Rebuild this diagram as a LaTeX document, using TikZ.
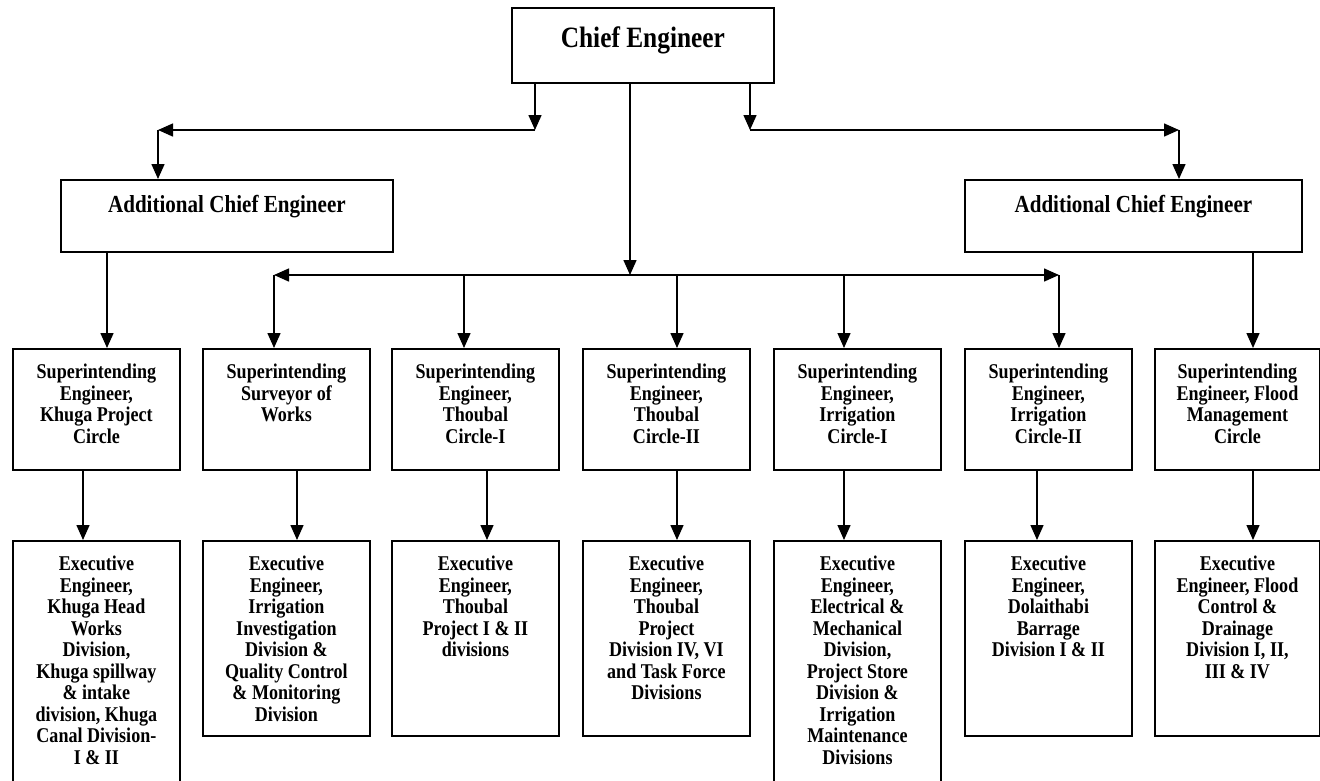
\documentclass[tikz,border=0pt]{standalone}
\usepackage{fontspec}
\setmainfont{Liberation Serif}[FakeStretch=0.86]
\usetikzlibrary{arrows.meta}
\newcommand{\bt}[4]{\parbox[c][#1][t]{#2}{\centering\vspace*{#3}\strut #4}}
\begin{document}
\begin{tikzpicture}[x=1pt,y=-1pt,
  box/.style={draw, line width=1.8pt, inner sep=0pt, anchor=north west},
  small/.style={font=\bfseries\fontsize{21}{21.5}\selectfont},
  mid/.style={font=\bfseries\fontsize{24.5}{25}\selectfont},
  big/.style={font=\bfseries\fontsize{29.5}{30}\selectfont},
  sebox/.style={box, small, minimum width=167pt, minimum height=121pt},
  conn/.style={line width=1.5pt, -{Triangle[length=15pt,width=13pt]}},
  both/.style={line width=1.5pt, {Triangle[length=15pt,width=13pt]}-{Triangle[length=15pt,width=13pt]}}]
\clip (0,0) rectangle (1320,780);
\fill[white] (0,0) rectangle (1320,780);

% top
\node[box, big, minimum width=262pt, minimum height=75pt] (ce) at (511,7)
  {\bt{75pt}{250pt}{19pt}{Chief Engineer}};
\node[box, mid, minimum width=332pt, minimum height=72pt] (ace1) at (60,179)
  {\bt{72pt}{320pt}{15.5pt}{Additional Chief Engineer}};
\node[box, mid, minimum width=337pt, minimum height=72pt] (ace2) at (964,179)
  {\bt{72pt}{320pt}{15.5pt}{Additional Chief Engineer}};

% superintending row
\node[sebox] (se1) at (12,348) {\bt{121pt}{160pt}{15pt}{Superintending\\Engineer,\\Khuga Project\\Circle}};
\node[sebox] (se2) at (202,348) {\bt{121pt}{160pt}{15pt}{Superintending\\Surveyor of\\Works}};
\node[sebox] (se3) at (391,348) {\bt{121pt}{160pt}{15pt}{Superintending\\Engineer,\\Thoubal\\Circle-I}};
\node[sebox] (se4) at (582,348) {\bt{121pt}{160pt}{15pt}{Superintending\\Engineer,\\Thoubal\\Circle-II}};
\node[sebox] (se5) at (773,348) {\bt{121pt}{160pt}{15pt}{Superintending\\Engineer,\\Irrigation\\Circle-I}};
\node[sebox] (se6) at (964,348) {\bt{121pt}{160pt}{15pt}{Superintending\\Engineer,\\Irrigation\\Circle-II}};
\node[sebox, minimum width=165pt] (se7) at (1154,348) {\bt{121pt}{160pt}{15pt}{Superintending\\Engineer, Flood\\Management\\Circle}};

% executive row
\node[box, small, minimum width=167pt, minimum height=270pt] (ex1) at (12,540) {\bt{270pt}{160pt}{15pt}{Executive\\Engineer,\\Khuga Head\\Works\\Division,\\Khuga spillway\\\& intake\\division, Khuga\\Canal Division-\\I \& II}};
\node[box, small, minimum width=167pt, minimum height=195pt] (ex2) at (202,540) {\bt{195pt}{160pt}{15pt}{Executive\\Engineer,\\Irrigation\\Investigation\\Division \&\\Quality Control\\\& Monitoring\\Division}};
\node[box, small, minimum width=167pt, minimum height=195pt] (ex3) at (391,540) {\bt{195pt}{160pt}{15pt}{Executive\\Engineer,\\Thoubal\\Project I \& II\\divisions}};
\node[box, small, minimum width=167pt, minimum height=195pt] (ex4) at (582,540) {\bt{195pt}{160pt}{15pt}{Executive\\Engineer,\\Thoubal\\Project\\Division IV, VI\\and Task Force\\Divisions}};
\node[box, small, minimum width=167pt, minimum height=270pt] (ex5) at (773,540) {\bt{270pt}{160pt}{15pt}{Executive\\Engineer,\\Electrical \&\\Mechanical\\Division,\\Project Store\\Division \&\\Irrigation\\Maintenance\\Divisions}};
\node[box, small, minimum width=167pt, minimum height=195pt] (ex6) at (964,540) {\bt{195pt}{160pt}{15pt}{Executive\\Engineer,\\Dolaithabi\\Barrage\\Division I \& II}};
\node[box, small, minimum width=165pt, minimum height=195pt] (ex7) at (1154,540) {\bt{195pt}{160pt}{15pt}{Executive\\Engineer, Flood\\Control \&\\Drainage\\Division I, II,\\III \& IV}};

% level 1 connectors
\coordinate (d1l) at (535,130);
\coordinate (d1r) at (750,130);
\coordinate (j1l) at (158,130);
\coordinate (j1r) at (1179,130);
\draw[conn] (ce.south -| d1l) -- (d1l);
\draw[conn] (ce.south -| d1r) -- (d1r);
\draw[conn] (d1l) -- (j1l);
\draw[conn] (d1r) -- (j1r);
\draw[conn] (j1l) -- (j1l |- ace1.north);
\draw[conn] (j1r) -- (j1r |- ace2.north);

% level 2 connectors
\coordinate (m) at (630,275);
\coordinate (j2l) at (274,275);
\coordinate (j2r) at (1059,275);
\coordinate (b3) at (464,275);
\coordinate (b4) at (677,275);
\coordinate (b5) at (844,275);
\draw[conn] (ce.south -| m) -- (m);
\draw[both] (j2l) -- (j2r);
\draw[conn] (j2l) -- (j2l |- se2.north);
\draw[conn] (b3) -- (b3 |- se3.north);
\draw[conn] (b4) -- (b4 |- se4.north);
\draw[conn] (b5) -- (b5 |- se5.north);
\draw[conn] (j2r) -- (j2r |- se6.north);
\coordinate (a1) at (107,300);
\coordinate (a7) at (1253,300);
\draw[conn] (ace1.south -| a1) -- (a1 |- se1.north);
\draw[conn] (ace2.south -| a7) -- (a7 |- se7.north);

% level 3 connectors
\coordinate (v1) at (83,500);
\coordinate (v2) at (297,500);
\coordinate (v3) at (487,500);
\coordinate (v4) at (677,500);
\coordinate (v5) at (844,500);
\coordinate (v6) at (1037,500);
\coordinate (v7) at (1253,500);
\draw[conn] (se1.south -| v1) -- (v1 |- ex1.north);
\draw[conn] (se2.south -| v2) -- (v2 |- ex2.north);
\draw[conn] (se3.south -| v3) -- (v3 |- ex3.north);
\draw[conn] (se4.south -| v4) -- (v4 |- ex4.north);
\draw[conn] (se5.south -| v5) -- (v5 |- ex5.north);
\draw[conn] (se6.south -| v6) -- (v6 |- ex6.north);
\draw[conn] (se7.south -| v7) -- (v7 |- ex7.north);
\end{tikzpicture}
\end{document}
